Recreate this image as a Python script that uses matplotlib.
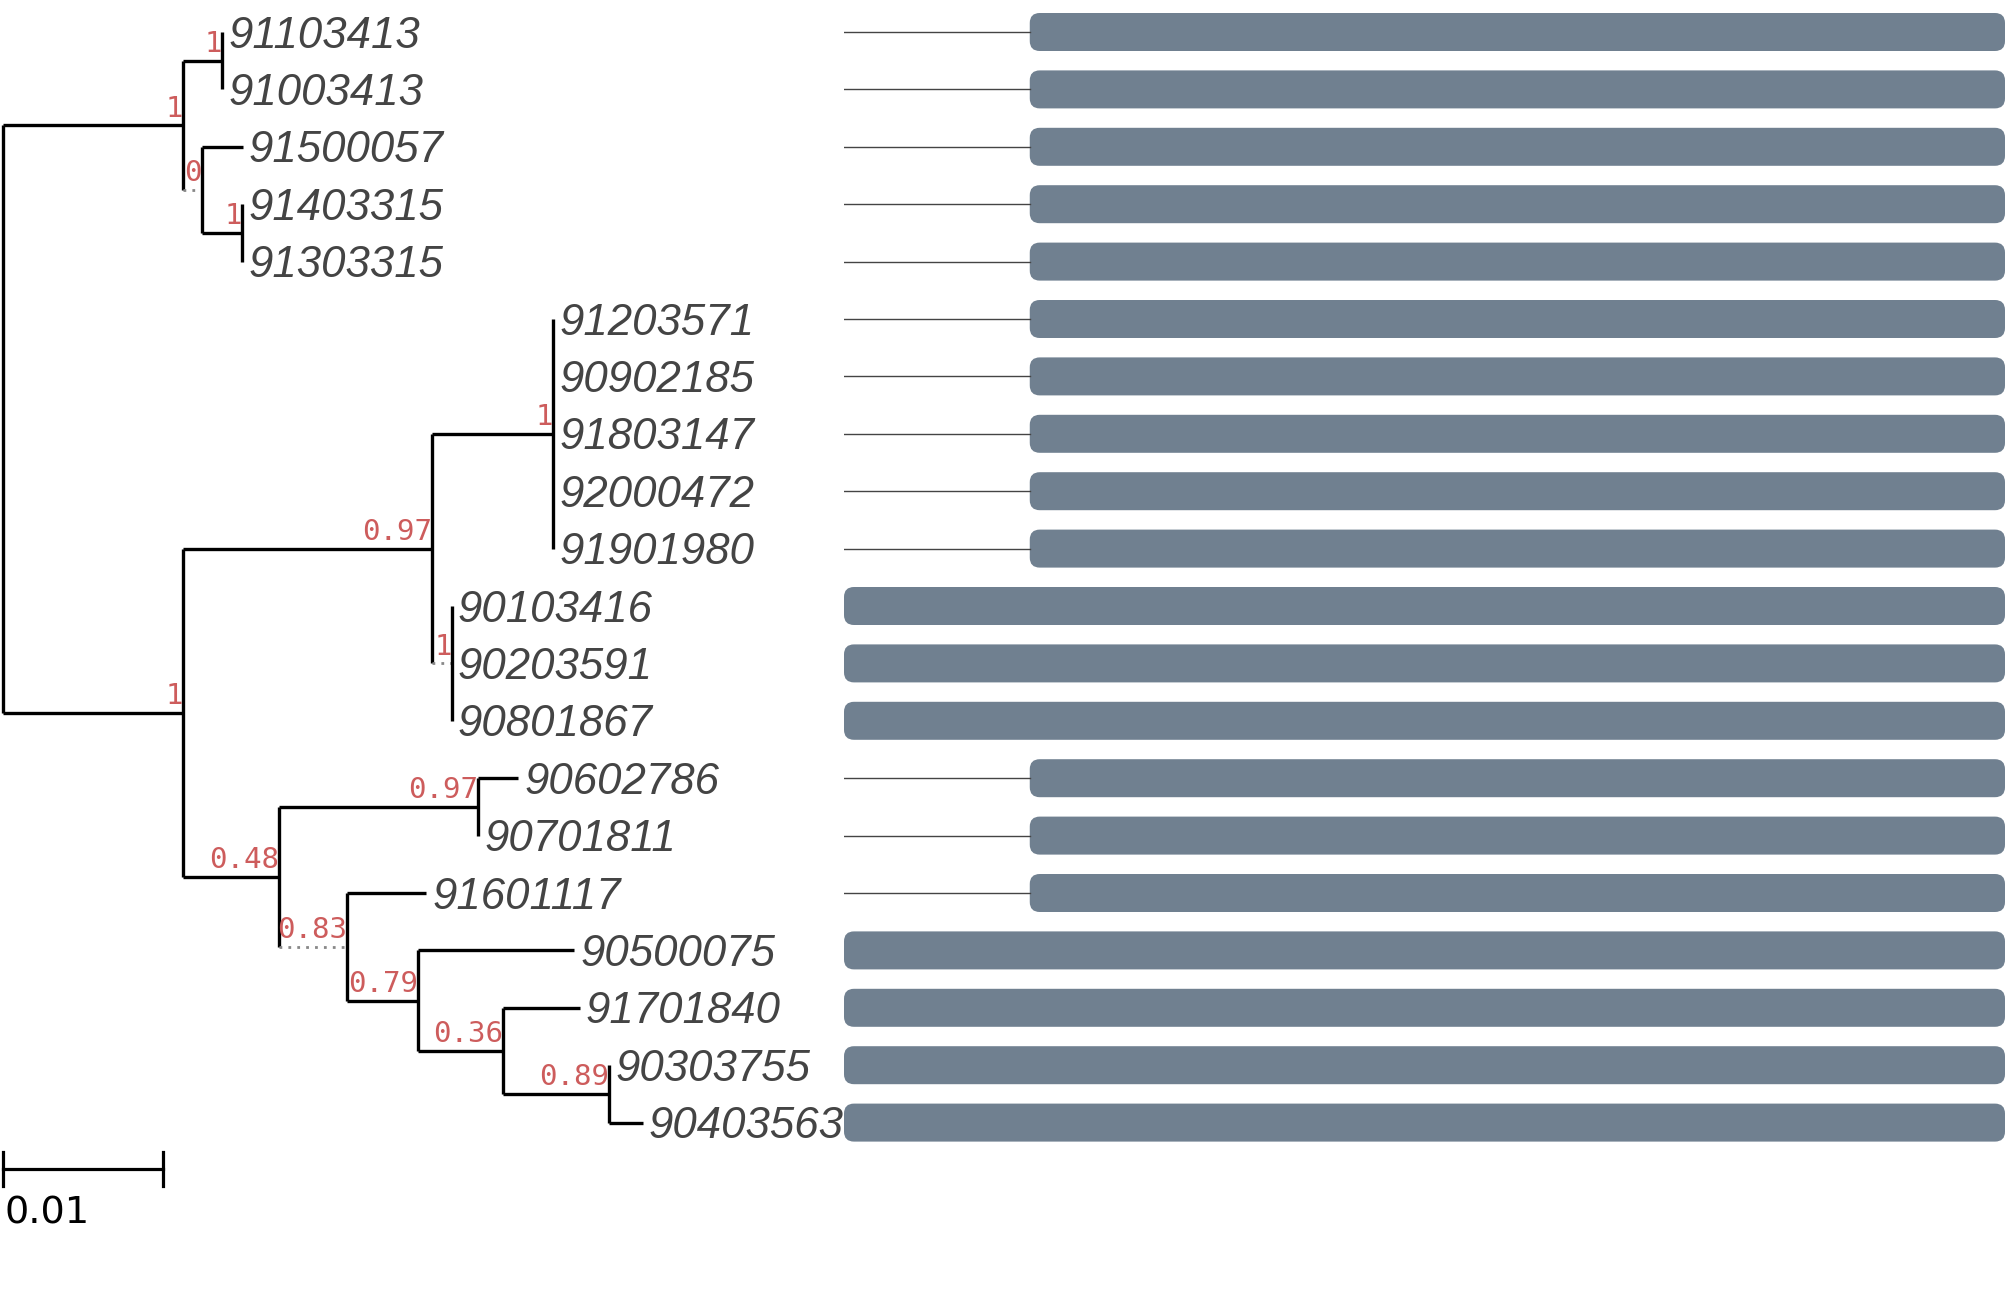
import matplotlib
matplotlib.use("Agg")
import matplotlib.pyplot as plt
from matplotlib.patches import FancyBboxPatch

# tree: edges listed top to bottom (parent, child, branch length)
edge_parent = ["root", "A", "N1", "N1", "A", "B", "B", "N2", "N2",
               "root", "C", "D", "E", "E", "E", "E", "E", "D", "F", "F", "F",
               "C", "G", "H", "H", "G", "I", "I", "J", "J", "K", "K", "L", "L"]
edge_child = ["A", "N1", "91103413", "91003413", "B", "91500057", "N2", "91403315", "91303315",
              "C", "D", "E", "91203571", "90902185", "91803147", "92000472", "91901980",
              "F", "90103416", "90203591", "90801867",
              "G", "H", "90602786", "90701811", "I", "91601117", "J", "90500075", "K",
              "91701840", "L", "90303755", "90403563"]
edge_length = [0.01125, 0.00244, 0.0, 0.0, 0.00119, 0.00256, 0.0025, 0.0, 0.0,
               0.01125, 0.01556, 0.00757, 0.0, 0.0, 0.0, 0.0, 0.0,
               0.00125, 0.0, 0.0, 0.0,
               0.006, 0.01244, 0.0025, 0.0, 0.00425, 0.00494, 0.00444, 0.00975, 0.00531,
               0.00481, 0.00663, 0.0, 0.00212]

# support values at internal nodes
support_node = ["N1", "A", "B", "N2", "C", "D", "E", "F", "G", "H", "I", "J", "K", "L"]
support_value = ["1", "1", "0", "1", "1", "0.97", "1", "1", "0.48", "0.97", "0.83", "0.79", "0.36", "0.89"]

# branches drawn dotted
dotted_edges = ["B", "F", "I"]

# tips whose bar spans the full length (others start later)
full_tips = ["90103416", "90203591", "90801867", "90500075", "91701840", "90303755", "90403563"]
bar_full_start = 0.0
bar_part_start = 0.16
bar_end = 1.0

scale_len = 0.01

# ---- layout the tree ----
children = {}
for p, c, l in zip(edge_parent, edge_child, edge_length):
    children.setdefault(p, []).append((c, l))

xpos = {"root": 0.0}
ypos = {}
tips = []

def layout(node):
    for c, l in children.get(node, []):
        xpos[c] = xpos[node] + l
        layout(c)
    if node in children:
        ys = [ypos[c] for c, _ in children[node]]
        ypos[node] = (ys[0] + ys[-1]) / 2
    else:
        ypos[node] = len(tips)
        tips.append(node)

layout("root")

W, H = 2007, 1313
fig = plt.figure(figsize=(W / 100, H / 100), dpi=100)

px_per_unit = 16000.0
row_px = 57.4
top_px = 32.0
ylim = ((H - top_px) / row_px, -top_px / row_px)

tree_w = 844
ax = fig.add_axes([0, 0, tree_w / W, 1])
ax.set_xlim(-3 / px_per_unit, (tree_w - 3) / px_per_unit)
ax.set_ylim(*ylim)
ax.axis("off")

lw = 2.4
for node, kids in children.items():
    ys = [ypos[c] for c, _ in kids]
    ax.plot([xpos[node], xpos[node]], [min(ys), max(ys)], color="black", lw=lw,
            solid_capstyle="butt")
    for c, _ in kids:
        if c in dotted_edges:
            ax.plot([xpos[node], xpos[c]], [ypos[c], ypos[c]], color="#888888", lw=2.0,
                    linestyle=(0, (1, 2.2)))
        else:
            ax.plot([xpos[node], xpos[c]], [ypos[c], ypos[c]], color="black", lw=lw,
                    solid_capstyle="butt")

for t in tips:
    ax.annotate(t, (xpos[t], ypos[t]), xytext=(4.3, -11.3), textcoords="offset points",
                fontsize=31.5, style="italic", family=["Liberation Sans", "DejaVu Sans"],
                color="#444444", ha="left", va="baseline")

for n, s in zip(support_node, support_value):
    ax.annotate(s, (xpos[n], ypos[n]), xytext=(0, 6.3), textcoords="offset points",
                ha="right", va="baseline", fontsize=21, family="DejaVu Sans Mono",
                color="#CD5C5C")

# scale bar
sb_y = (1169 - top_px) / row_px
tick = 17 / row_px
ax.plot([0, scale_len], [sb_y, sb_y], color="black", lw=2.3)
ax.plot([0, 0], [sb_y - tick, sb_y + tick], color="black", lw=2.3)
ax.plot([scale_len, scale_len], [sb_y - tick, sb_y + tick], color="black", lw=2.3)
ax.text(0.0001, sb_y + 26 / row_px, "0.01", fontsize=27.5, family="DejaVu Sans",
        ha="left", va="top", color="black")

# ---- bar panel ----
bar_w = 2005 - tree_w
bx = fig.add_axes([tree_w / W, 0, bar_w / W, 1])
bx.set_xlim(0, 1)
bx.set_ylim(*ylim)
bx.axis("off")

bar_h = 38 / row_px
r = 10 / bar_w
aspect = (1 / row_px) / (1 / bar_w)
for t in tips:
    y = ypos[t]
    start = bar_full_start if t in full_tips else bar_part_start
    if start > bar_full_start:
        bx.plot([bar_full_start, start], [y, y], color="#444444", lw=1.0)
    bx.add_patch(FancyBboxPatch((start, y - bar_h / 2), bar_end - start, bar_h,
                                boxstyle=f"round,pad=0,rounding_size={r}",
                                mutation_aspect=aspect, facecolor="#708090",
                                edgecolor="none"))

fig.savefig("out.png", dpi=100, facecolor="white")
